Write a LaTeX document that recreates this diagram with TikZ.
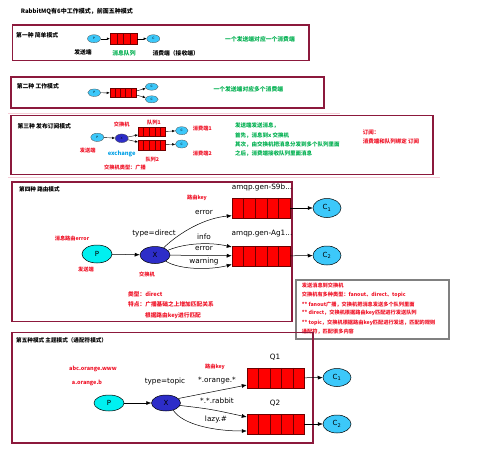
\documentclass[tikz,border=0pt]{standalone}
\usepackage{fontspec}
\setmainfont{DejaVu Sans}
\newfontfamily\cjk{Noto Sans CJK SC}
\newfontfamily\dvs{DejaVu Sans}
\usetikzlibrary{shapes.geometric,arrows.meta,calc}
\definecolor{boxc}{RGB}{140,25,60}
\definecolor{redt}{RGB}{240,20,40}
\definecolor{greent}{RGB}{0,176,80}
\definecolor{bluet}{RGB}{0,160,230}
\definecolor{pcol}{RGB}{0,240,240}
\definecolor{ccol}{RGB}{60,200,250}
\definecolor{xcol}{RGB}{45,45,200}
\definecolor{qcol}{RGB}{255,0,0}
\definecolor{qdark}{RGB}{110,0,0}
\definecolor{pinkl}{RGB}{245,205,215}
\definecolor{grayb}{RGB}{128,128,128}
\newcommand\qdiv[2]{%
  \pgfmathtruncatemacro\qdn{#2-1}%
  \foreach \i in {1,...,\qdn}{%
    \draw[draw=qdark,line width=0.5pt] ($(#1.north west)!\i/#2!(#1.north east)$) -- ($(#1.south west)!\i/#2!(#1.south east)$);}}
\begin{document}
\begin{tikzpicture}[x=1pt,y=-1pt,
  box/.style={draw=boxc,line width=1.2pt},
  bt/.style={font=\cjk\bfseries\fontsize{5.8}{7}\selectfont,inner sep=0},
  lbl/.style={bt,anchor=west},
  rt/.style={text=redt,font=\cjk\bfseries\fontsize{5.2}{6}\selectfont,inner sep=0},
  gt/.style={text=greent,font=\cjk\bfseries\fontsize{5.8}{7}\selectfont,inner sep=0},
  dv/.style={font=\dvs\fontsize{7.3}{8}\selectfont,inner sep=0},
  sell/.style={ellipse,draw=black!70,line width=0.3pt,inner sep=0,minimum width=13pt,minimum height=8pt,font=\dvs\fontsize{3}{3}\selectfont},
  bige/.style={ellipse,draw=black,line width=0.5pt,inner sep=0,minimum width=30pt,minimum height=17pt,font=\dvs\fontsize{7}{8}\selectfont},
  qnode/.style={rectangle,draw=qdark,fill=qcol,line width=0.5pt,inner sep=0},
  arr/.style={-{Latex[length=5pt,width=4pt]},line width=0.5pt},
  sarr/.style={-{Latex[length=3pt,width=2.5pt]},line width=0.4pt}]
\useasboundingbox[fill=white] (0,0) rectangle (499,456);

% title
\node[font=\cjk\bfseries\fontsize{6}{7}\selectfont,anchor=west,inner sep=0] (title) at (20.7,12) {RabbitMQ有6中工作模式，前面五种模式};

% faint pink lines
\draw[pinkl,line width=1pt] (8,113.5) -- (340,113.5);
\draw[pinkl,line width=1pt] (8,177.5) -- (440,177.5);

% ---------- Box 1 ----------
\draw[box] (12.5,25) rectangle (309,60.5);
\node[lbl] (t1) at (16,35) {第一种 简单模式};
\node[sell,fill=ccol] (p1) at (94,38.7) {P};
\node[qnode,minimum width=27pt,minimum height=10.5pt] (q1) at (123.7,38.7) {};
\qdiv{q1}{4}
\node[sell,fill=ccol] (c1) at (153.3,38.7) {C};
\draw[sarr] (p1) -- (q1);
\draw[sarr] (q1) -- (c1);
\node[bt] (l1a) at (83,52) {发送端};
\node[gt] (l1b) at (124,53.7) {消息队列};
\node[bt] (l1c) at (175.7,53.7) {消费端（接收端）};
\node[gt] (l1d) at (260,39) {一个发送端对应一个消费端};

% ---------- Box 2 ----------
\draw[box] (11,77) rectangle (324,108);
\node[lbl] (t2) at (16.7,86.7) {第二种 工作模式};
\node[sell,fill=ccol,minimum height=7.5pt] (p2) at (94.3,92.7) {P};
\node[qnode,minimum width=26pt,minimum height=8.6pt] (q2) at (123,93) {};
\qdiv{q2}{5}
\node[sell,fill=ccol,minimum height=7pt] (c2a) at (151.7,86.7) {C};
\node[sell,fill=ccol,minimum height=7pt] (c2b) at (151.7,99.3) {C};
\draw[sarr] (p2) -- (q2);
\draw[sarr] ([yshift=2pt]q2.east) -- (c2a);
\draw[sarr] ([yshift=-2pt]q2.east) -- (c2b);
\node[gt] (l2) at (248.3,89.3) {一个发送端对应多个消费端};

% ---------- Box 3 ----------
\draw[box] (11,115.5) rectangle (433,174.3);
\node[lbl] (t3) at (17.3,126.7) {第三种 发布订阅模式};
\node[sell,fill=ccol,minimum height=8.3pt] (p3) at (97.3,137.3) {P};
\node[sell,fill=xcol,minimum height=8.7pt] (x3) at (121.7,138.3) {X};
\node[qnode,minimum width=27.4pt,minimum height=9.4pt] (q3a) at (152,132) {};
\qdiv{q3a}{5}
\node[qnode,minimum width=27.4pt,minimum height=9.4pt] (q3b) at (152,145.3) {};
\qdiv{q3b}{5}
\node[sell,fill=ccol,minimum width=12.7pt] (c3a) at (181.7,130.7) {C};
\node[sell,fill=ccol,minimum width=12.7pt] (c3b) at (181.7,144) {C};
\draw[sarr] (p3) -- (x3);
\draw[sarr] (x3) -- (q3a);
\draw[sarr] (x3) -- (q3b);
\draw[sarr] (q3a) -- (c3a);
\draw[sarr] (q3b) -- (c3b);
\node[rt] (l3a) at (121.7,124) {交换机};
\node[rt] (l3b) at (154,122.3) {队列1};
\node[rt] (l3c) at (202.3,129) {消费端1};
\node[rt] (l3d) at (202.3,154) {消费端2};
\node[rt] (l3e) at (87.7,150.7) {发送端};
\node[text=bluet,font=\cjk\bfseries\fontsize{5.8}{7}\selectfont,inner sep=0] (l3f) at (121.7,154.3) {exchange};
\node[rt] (l3g) at (152.3,160) {队列2};
\node[rt] (l3h) at (125,167.3) {交换机类型：广播};
\node[gt,anchor=west,font=\cjk\bfseries\fontsize{5.5}{7}\selectfont] (g3a) at (235,126) {发送端发送消息，};
\node[gt,anchor=west,font=\cjk\bfseries\fontsize{5.5}{7}\selectfont] (g3b) at (235,135.5) {首先，消息到x 交换机};
\node[gt,anchor=west,font=\cjk\bfseries\fontsize{5.5}{7}\selectfont] (g3c) at (235,144.5) {其次，由交换机把消息分发到多个队列里面};
\node[gt,anchor=west,font=\cjk\bfseries\fontsize{5.5}{7}\selectfont] (g3d) at (235,154) {之后，消费端接收队列里面消息};
\node[rt,anchor=west,font=\cjk\bfseries\fontsize{5.5}{7}\selectfont] (r3a) at (362.7,132.3) {订阅：};
\node[rt,anchor=west,font=\cjk\bfseries\fontsize{5.5}{7}\selectfont] (r3b) at (362.7,141.7) {消费端和队列绑定 订阅};

% ---------- Box 4 ----------
\draw[box] (12,182) rectangle (292,321.5);
\node[lbl,font=\cjk\bfseries\fontsize{5.6}{7}\selectfont] (t4) at (19,189) {第四种 路由模式};
\node[bige,fill=pcol,minimum height=18pt] (p4) at (97,254) {P};
\node[bige,fill=xcol] (x4) at (155,255) {X};
\node[qnode,minimum width=58pt,minimum height=20pt] (q4a) at (261,208) {};
\qdiv{q4a}{5}
\node[qnode,minimum width=58pt,minimum height=20pt] (q4b) at (261,256) {};
\qdiv{q4b}{5}
\node[bige,fill=ccol,minimum width=28pt,minimum height=19pt] (c4a) at (327,208) {C\textsubscript{1}};
\node[bige,fill=ccol,minimum width=28pt,minimum height=19pt] (c4b) at (327,255.5) {C\textsubscript{2}};
\draw[arr] (p4) -- (x4);
\draw[arr] (x4.40) .. controls (180,232) and (205,218) .. ([yshift=-7.7pt]q4a.west);
\draw[arr] (x4.20) .. controls (185,243) and (210,242) .. ([yshift=9pt]q4b.west);
\draw[arr] (x4) -- (q4b);
\draw[arr] (x4.-30) .. controls (180,270) and (210,270) .. ([yshift=-8.5pt]q4b.west);
\draw[arr] (q4a) -- (c4a);
\draw[arr] (q4b) -- (c4b);
\node[dv] (d4a) at (204,213) {error};
\node[dv] (d4b) at (204,237) {info};
\node[dv] (d4c) at (204,249) {error};
\node[dv] (d4d) at (204,261) {warning};
\node[dv] (d4e) at (154,233) {type=direct};
\node[dv] (d4f) at (262,187) {amqp.gen-S9b...};
\node[dv] (d4g) at (262,234) {amqp.gen-Ag1...};
\node[rt] (r4a) at (197,198) {路由key};
\node[rt] (r4b) at (72,238) {消息路由error};
\node[rt] (r4c) at (86,270) {发送端};
\node[rt] (r4d) at (147,274) {交换机};
\node[rt,anchor=west,font=\cjk\bfseries\fontsize{5.7}{7}\selectfont] (r4e) at (128,294) {类型：direct};
\node[rt,anchor=west,font=\cjk\bfseries\fontsize{5.7}{7}\selectfont] (r4f) at (128,304) {特点：广播基础之上增加匹配关系};
\node[rt,font=\cjk\bfseries\fontsize{5.7}{7}\selectfont] (r4g) at (173,316) {根据路由key进行匹配};

% ---------- Gray box ----------
\draw[draw=grayb,fill=white,line width=1.3pt] (296,280) rectangle (449,339);
\node[rt,anchor=west] (gb1) at (301.7,286) {发送消息到交换机};
\node[rt,anchor=west] (gb2) at (301.7,295) {交换机有多种类型：fanout、direct、topic};
\node[rt,anchor=west] (gb3) at (301.7,304.3) {** fanout广播，交换机把消息发送多个队列里面};
\node[rt,anchor=west] (gb4) at (301.7,313) {** direct，交换机根据路由key匹配进行发送队列};
\node[rt,anchor=west] (gb5) at (301.7,322.7) {** topic，交换机根据路由key匹配进行发送，匹配的规则};
\node[rt,anchor=west] (gb6) at (301.7,331.7) {通配符，匹配很多内容};

% ---------- Box 5 ----------
\draw[box] (12,332.5) rectangle (313,443);
\node[lbl,font=\cjk\bfseries\fontsize{5.6}{7}\selectfont] (t5) at (16,340) {第五种模式 主题模式（通配符模式）};
\node[bige,fill=pcol,minimum height=16pt] (p5) at (109,403) {P};
\node[bige,fill=xcol,minimum width=29pt,minimum height=16pt] (x5) at (166,403) {X};
\node[qnode,minimum width=57pt,minimum height=20pt] (q5a) at (275.5,378) {};
\qdiv{q5a}{5}
\node[qnode,minimum width=57pt,minimum height=20pt] (q5b) at (275.5,424) {};
\qdiv{q5b}{5}
\node[bige,fill=ccol,minimum width=28pt,minimum height=18pt] (c5a) at (337,377.5) {C\textsubscript{1}};
\node[bige,fill=ccol,minimum width=28pt,minimum height=18pt] (c5b) at (337,424) {C\textsubscript{2}};
\draw[arr] (p5) -- (x5);
\draw[arr] (x5.20) -- ([yshift=-7pt]q5a.west);
\draw[arr] (x5.-10) .. controls (210,409) .. ([yshift=7pt]q5b.west);
\draw[arr] (x5.-45) .. controls (183,425) and (215,431) .. ([yshift=-7pt]q5b.west);
\draw[arr] (q5a) -- (c5a);
\draw[arr] (q5b) -- (c5b);
\node[dv] (d5a) at (165,381) {type=topic};
\node[dv] (d5b) at (217,381) {*.orange.*};
\node[dv] (d5c) at (217,401) {*.*.rabbit};
\node[dv] (d5d) at (216,419) {lazy.\#};
\node[dv] (d5e) at (275,357) {Q1};
\node[dv] (d5f) at (275,403) {Q2};
\node[rt] (r5a) at (215,367) {路由key};
\node[rt,font=\cjk\bfseries\fontsize{5.5}{7}\selectfont] (r5b) at (93,369) {abc.orange.www};
\node[rt,font=\cjk\bfseries\fontsize{5.5}{7}\selectfont] (r5c) at (87,383) {a.orange.b};
\end{tikzpicture}
\end{document}
